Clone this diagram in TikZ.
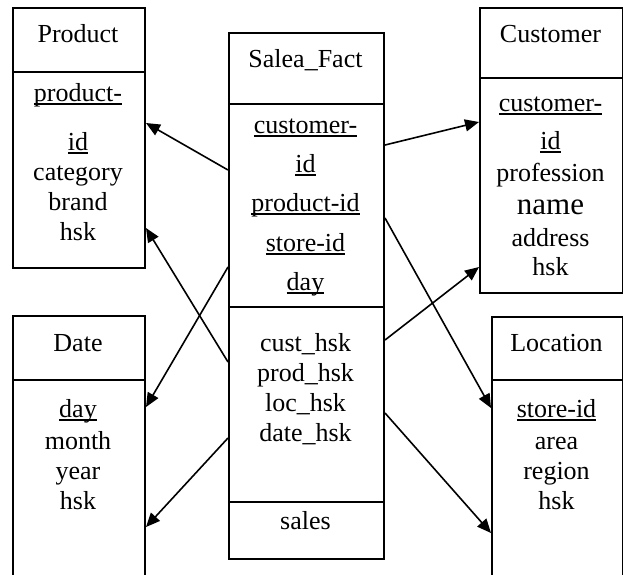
\documentclass[tikz,border=0pt]{standalone}
\usepackage{fontspec}
\setmainfont{Liberation Serif}
\usetikzlibrary{arrows.meta}
\newcommand\myul[1]{\setbox0\hbox{#1}\rlap{\rule[-3.5pt]{\wd0}{1.5pt}}\box0}
\tikzset{
  tbl/.style={draw, line width=2pt, rectangle, inner sep=0pt, anchor=north west},
  tline/.style={line width=2pt},
  txt/.style={anchor=base, inner sep=0pt, font=\fontsize{26pt}{30pt}\selectfont},
  big/.style={anchor=base, inner sep=0pt, font=\fontsize{31pt}{34pt}\selectfont},
  arr/.style={line width=1.6pt, -{Triangle[length=14pt,width=12pt]}}
}
\begin{document}
\begin{tikzpicture}[x=1pt,y=-1pt]
\useasboundingbox (0,0) rectangle (623,574);
\clip (0,0) rectangle (623,574);
\fill[white] (0,0) rectangle (623,574);
% boxes
\node[tbl, minimum width=132pt, minimum height=260pt] (product) at (12,7) {};
\node[tbl, minimum width=155pt, minimum height=526pt] (fact) at (228,32) {};
\node[tbl, minimum width=143pt, minimum height=285pt] (customer) at (479,7) {};
\node[tbl, minimum width=132pt, minimum height=280pt] (date) at (12,315) {};
\node[tbl, minimum width=131pt, minimum height=280pt] (location) at (491,316) {};
% dividers
\draw[tline] ([yshift=-65pt]product.north west) -- ([yshift=-65pt]product.north east);
\draw[tline] ([yshift=-72pt]fact.north west) -- ([yshift=-72pt]fact.north east);
\draw[tline] ([yshift=-275pt]fact.north west) -- ([yshift=-275pt]fact.north east);
\draw[tline] ([yshift=-470pt]fact.north west) -- ([yshift=-470pt]fact.north east);
\draw[tline] ([yshift=-71pt]customer.north west) -- ([yshift=-71pt]customer.north east);
\draw[tline] ([yshift=-65pt]date.north west) -- ([yshift=-65pt]date.north east);
\draw[tline] ([yshift=-64pt]location.north west) -- ([yshift=-64pt]location.north east);
% Product texts
\node[txt] (p0) at (78,42) {Product};
\node[txt] (p1) at (78,101) {\myul{product-}};
\node[txt] (p2) at (78,150) {\myul{id}};
\node[txt] (p3) at (78,180) {category};
\node[txt] (p4) at (78,210) {brand};
\node[txt] (p5) at (78,240) {hsk};
% Fact texts
\node[txt] (f0) at (305.5,67) {Salea\_Fact};
\node[txt] (f1) at (305.5,133) {\myul{customer-}};
\node[txt] (f2) at (305.5,172) {\myul{id}};
\node[txt] (f3) at (305.5,211) {\myul{product-id}};
\node[txt] (f4) at (305.5,251) {\myul{store-id}};
\node[txt] (f5) at (305.5,290) {\myul{day}};
\node[txt] (f6) at (305.5,351) {cust\_hsk};
\node[txt] (f7) at (305.5,381) {prod\_hsk};
\node[txt] (f8) at (305.5,411) {loc\_hsk};
\node[txt] (f9) at (305.5,441) {date\_hsk};
\node[txt] (f10) at (305.5,529) {sales};
% Customer texts
\node[txt] (c0) at (550.5,42) {Customer};
\node[txt] (c1) at (550.5,111) {\myul{customer-}};
\node[txt] (c2) at (550.5,149) {\myul{id}};
\node[txt] (c3) at (550.5,181) {profession};
\node[big] (c4) at (550.5,214) {name};
\node[txt] (c5) at (550.5,246) {address};
\node[txt] (c6) at (550.5,275) {hsk};
% Date texts
\node[txt] (d0) at (78,351) {Date};
\node[txt] (d1) at (78,417) {\myul{day}};
\node[txt] (d2) at (78,449) {month};
\node[txt] (d3) at (78,479) {year};
\node[txt] (d4) at (78,509) {hsk};
% Location texts
\node[txt] (l0) at (556.5,351) {Location};
\node[txt] (l1) at (556.5,417) {\myul{store-id}};
\node[txt] (l2) at (556.5,449) {area};
\node[txt] (l3) at (556.5,479) {region};
\node[txt] (l4) at (556.5,509) {hsk};
% arrows
\draw[arr] ([yshift=-138pt]fact.north west) -- ([yshift=-116pt]product.north east);
\draw[arr] ([yshift=-330pt]fact.north west) -- ([yshift=-221pt]product.north east);
\draw[arr] ([yshift=-235pt]fact.north west) -- ([yshift=-92pt]date.north east);
\draw[arr] ([yshift=-406pt]fact.north west) -- ([yshift=-212pt]date.north east);
\draw[arr] ([yshift=-113pt]fact.north east) -- ([yshift=-115pt]customer.north west);
\draw[arr] ([yshift=-186pt]fact.north east) -- ([yshift=-92pt]location.north west);
\draw[arr] ([yshift=-308pt]fact.north east) -- ([yshift=-260pt]customer.north west);
\draw[arr] ([yshift=-381pt]fact.north east) -- ([yshift=-217pt]location.north west);
\end{tikzpicture}
\end{document}
